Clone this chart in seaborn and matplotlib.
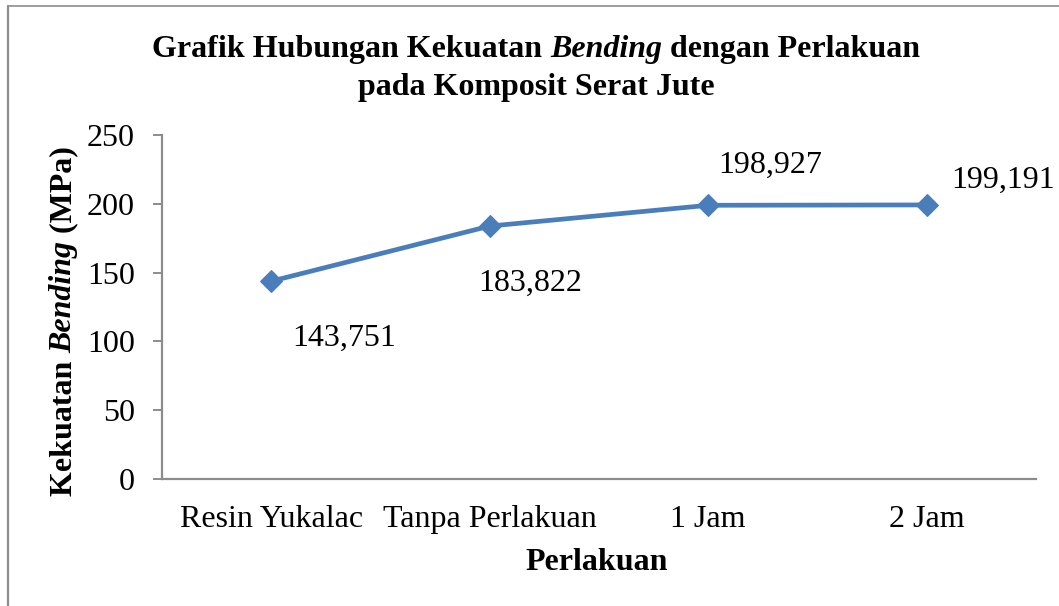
import matplotlib
matplotlib.use("Agg")
import matplotlib.pyplot as plt
from matplotlib.transforms import IdentityTransform
from matplotlib.lines import Line2D
import pandas as pd
import seaborn as sns

# Data
categories = ["Resin Yukalac", "Tanpa Perlakuan", "1 Jam", "2 Jam"]
kekuatan = [143.751, 183.822, 198.927, 199.191]
y_ticks = [0, 50, 100, 150, 200, 250]
# label offsets (points) relative to each marker
label_offsets = [(52.5, -41), (29, -41), (44.5, 29), (55, 18)]

sns.set_theme(style="white")
plt.rcParams["font.family"] = ["Liberation Serif", "DejaVu Serif"]

W, H, DPI = 1059, 606, 100
fig = plt.figure(figsize=(W / DPI, H / DPI), dpi=DPI)
fig.patch.set_facecolor("white")

ax = fig.add_axes([162 / W, 1 - 479 / H, (1036 - 162) / W, (479 - 135) / H])

df = pd.DataFrame({"Perlakuan": categories, "Kekuatan": kekuatan})
line_color = "#4A7EBB"
sns.lineplot(data=df, x="Perlakuan", y="Kekuatan", sort=False, ax=ax,
             color=line_color, linewidth=3.4, marker="D", markersize=11,
             markeredgecolor=line_color, markerfacecolor=line_color)

ax.set_xlim(-0.5, len(categories) - 0.5)
ax.set_ylim(0, 250)
ax.set_yticks(y_ticks)
ax.set_yticklabels([str(t) for t in y_ticks], fontsize=23)
ax.set_xticks(range(len(categories)))
ax.set_xticklabels(categories, fontsize=23)
ax.set_xlabel("")
ax.set_ylabel("")

spine_color = "#8C8C8C"
for side in ["top", "right"]:
    ax.spines[side].set_visible(False)
for side in ["left", "bottom"]:
    ax.spines[side].set_color(spine_color)
    ax.spines[side].set_linewidth(1.6)
ax.tick_params(axis="y", direction="out", length=6.5, width=1.4,
               color=spine_color, pad=13, labelcolor="black", left=True)
ax.tick_params(axis="x", length=0, pad=19, labelcolor="black", bottom=True)
ax.grid(False)

# value labels with comma decimal separator
for i, (v, off) in enumerate(zip(kekuatan, label_offsets)):
    txt = f"{v:.3f}".replace(".", ",")
    ax.annotate(txt, xy=(i, v), xytext=off, textcoords="offset points",
                ha="center", va="center", fontsize=23, color="black")


def rich_text(parts, x, y, size, rotation=0):
    """Draw a run of (text, style) segments centred at pixel (x, y)."""
    renderer = fig.canvas.get_renderer()
    objs = []
    lengths = []
    for s, style in parts:
        t = fig.text(0, 0, s, fontsize=size, fontweight="bold",
                     fontstyle=style, transform=IdentityTransform(),
                     ha="left", va="center", rotation=rotation,
                     rotation_mode="anchor", color="black")
        bb = t.get_window_extent(renderer)
        lengths.append(bb.height if rotation == 90 else bb.width)
        objs.append(t)
    total = sum(lengths)
    pos = -total / 2
    for t, L in zip(objs, lengths):
        if rotation == 90:
            t.set_position((x, y + pos))
        else:
            t.set_position((x + pos, y))
        pos += L


fig.canvas.draw()
# title (two lines)
rich_text([("Grafik Hubungan Kekuatan ", "normal"), ("Bending", "italic"),
           (" dengan Perlakuan", "normal")], 536, H - 50, 23)
rich_text([("pada Komposit Serat Jute", "normal")], 536, H - 87, 23)
# axis titles
rich_text([("Kekuatan ", "normal"), ("Bending", "italic"), (" (MPa)", "normal")],
          64, H - 321, 23, rotation=90)
rich_text([("Perlakuan", "normal")], 597, H - 562, 23)

# chart frame
border = "#8C8C8C"
fig.add_artist(Line2D([8 / W, 1.0], [1 - 6 / H, 1 - 6 / H],
                      transform=fig.transFigure, color=border, linewidth=1.2))
fig.add_artist(Line2D([8 / W, 8 / W], [0.0, 1 - 6 / H],
                      transform=fig.transFigure, color=border, linewidth=1.6))

fig.savefig("out.png", dpi=DPI, facecolor="white")
